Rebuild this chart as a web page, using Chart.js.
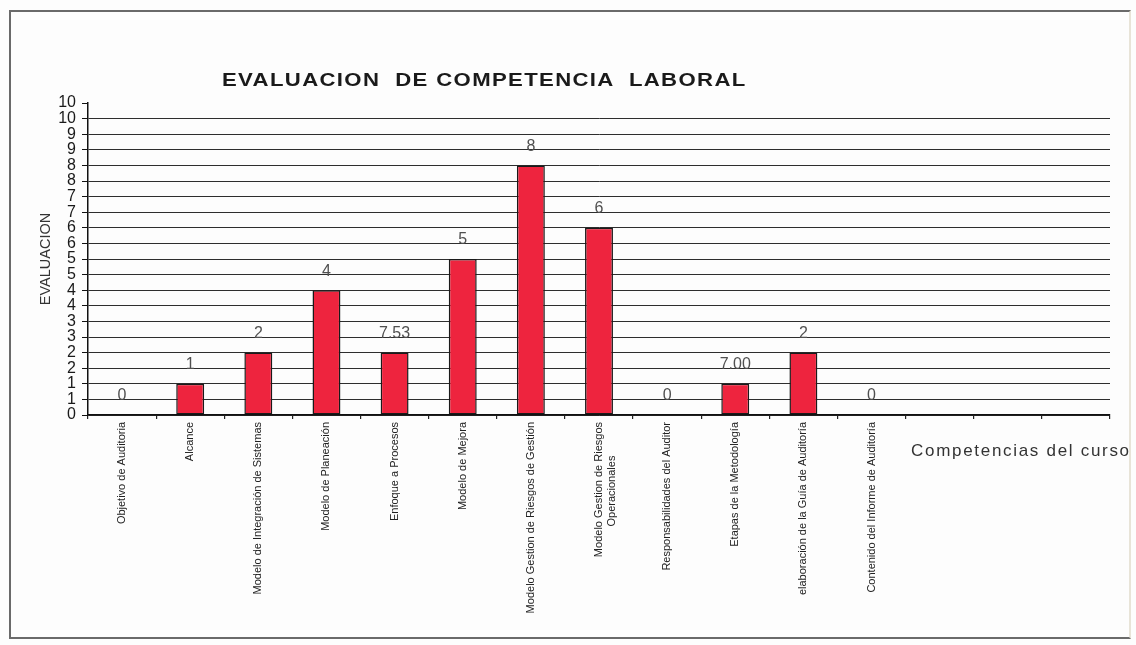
<!DOCTYPE html>
<html>
<head>
<meta charset="utf-8">
<script src="https://cdn.jsdelivr.net/npm/chart.js@4.4.1/dist/chart.umd.min.js"></script>
<style>
  html, body { margin: 0; padding: 0; background: #ffffff; }
  #wrap { position: relative; width: 1136px; height: 645px; overflow: hidden; background: #fdfdfd; }
  #frame { position: absolute; left: 9px; top: 10px; width: 1122px; height: 629px; border: 2px solid #6a6a6a; border-right-color: #e8e4d8; box-sizing: border-box; }
  canvas { position: absolute; left: 0; top: 0; }
  #title { position: absolute; left: 222px; top: 70px; font: bold 18px "Liberation Sans", Arial, sans-serif; letter-spacing: 1.1px; color: #1a1a1a; white-space: nowrap; transform: scaleX(1.23); transform-origin: 0 0; }
  #xtitle { position: absolute; left: 911px; top: 441px; font: 17px "Liberation Sans", Arial, sans-serif; letter-spacing: 1.7px; color: #333; white-space: nowrap; }
</style>
</head>
<body>
<div id="wrap">
  <div id="frame"></div>
  <canvas id="c" width="1136" height="645"></canvas>
  <div id="title">EVALUACION &nbsp;DE COMPETENCIA &nbsp;LABORAL</div>
  <div id="xtitle">Competencias del curso</div>
</div>
<script>
// ---- data ----
const categories = [
  "Objetivo de Auditoria",
  "Alcance",
  "Modelo de Integración de Sistemas",
  "Modelo de Planeación",
  "Enfoque a Procesos",
  "Modelo de Mejora",
  "Modelo Gestion de Riesgos de Gestión",
  ["Modelo Gestion de Riesgos", "Operacionales\u00a0\u00a0\u00a0\u00a0\u00a0\u00a0\u00a0\u00a0\u00a0\u00a0\u00a0"],
  "Responsabilidades del Auditor",
  "Etapas de la Metodología",
  "elaboración de la Guía de Auditoría",
  "Contenido del Informe de Auditoría",
  "", "", ""
];
const evaluacion = [0, 1, 2, 4, 2, 5, 8, 6, 0, 1, 2, 0];
const dataLabels = ["0", "1", "2", "4", "7.53", "5", "8", "6", "0", "7.00", "2", "0"];
const yMin = 0, yMax = 10, yStep = 0.5;

const labelPlugin = {
  id: 'barLabels',
  afterDatasetsDraw(chart) {
    const ctx = chart.ctx;
    const meta = chart.getDatasetMeta(0);
    ctx.save();
    ctx.font = '16px "Liberation Sans", Arial, sans-serif';
    ctx.fillStyle = '#505050';
    ctx.textAlign = 'center';
    ctx.textBaseline = 'middle';
    meta.data.forEach((bar, i) => {
      if (dataLabels[i] === undefined) return;
      ctx.fillText(dataLabels[i], bar.x, bar.y - 19);
    });
    ctx.restore();
  }
};

new Chart(document.getElementById('c'), {
  type: 'bar',
  data: {
    labels: categories,
    datasets: [{
      label: 'EVALUACION',
      data: evaluacion,
      backgroundColor: 'rgb(238,36,62)',
      borderColor: '#1a1a1a',
      borderWidth: 1.5,
      borderSkipped: false,
      categoryPercentage: 1.0,
      barPercentage: 0.41
    }]
  },
  options: {
    responsive: false,
    animation: false,
    layout: { padding: { left: 33, top: 103, right: 26, bottom: 0 } },
    plugins: {
      legend: { display: false },
      tooltip: { enabled: false }
    },
    scales: {
      x: {
        grid: { display: true, drawOnChartArea: false, drawTicks: true, tickLength: 4, tickColor: '#222', lineWidth: 1.2 },
        border: { color: '#111', width: 1.5 },
        ticks: {
          autoSkip: false,
          minRotation: 90,
          maxRotation: 90,
          padding: 3,
          color: '#222',
          font: { family: '"Liberation Sans", Arial, sans-serif', size: 11 }
        },
        afterFit(scale) { scale.height = 230; }
      },
      y: {
        min: yMin,
        max: yMax,
        grid: {
          color: (ctx) => (ctx.tick && ctx.tick.value === yMax) ? 'rgba(0,0,0,0)' : '#2e2e2e',
          lineWidth: 1,
          tickLength: 6,
          tickColor: '#111'
        },
        border: { color: '#111', width: 1.5 },
        ticks: {
          stepSize: yStep,
          maxTicksLimit: 40,
          autoSkip: false,
          padding: 6,
          color: '#1a1a1a',
          font: { family: '"Liberation Sans", Arial, sans-serif', size: 16 },
          callback: (v) => String(Math.round(v))
        },
        title: {
          display: true,
          text: 'EVALUACION',
          color: '#333',
          padding: { top: 4, bottom: 0 },
          font: { family: '"Liberation Sans", Arial, sans-serif', size: 14.5 }
        },
        afterFit(scale) { scale.width = 55; }
      }
    }
  },
  plugins: [labelPlugin]
});
</script>
</body>
</html>
